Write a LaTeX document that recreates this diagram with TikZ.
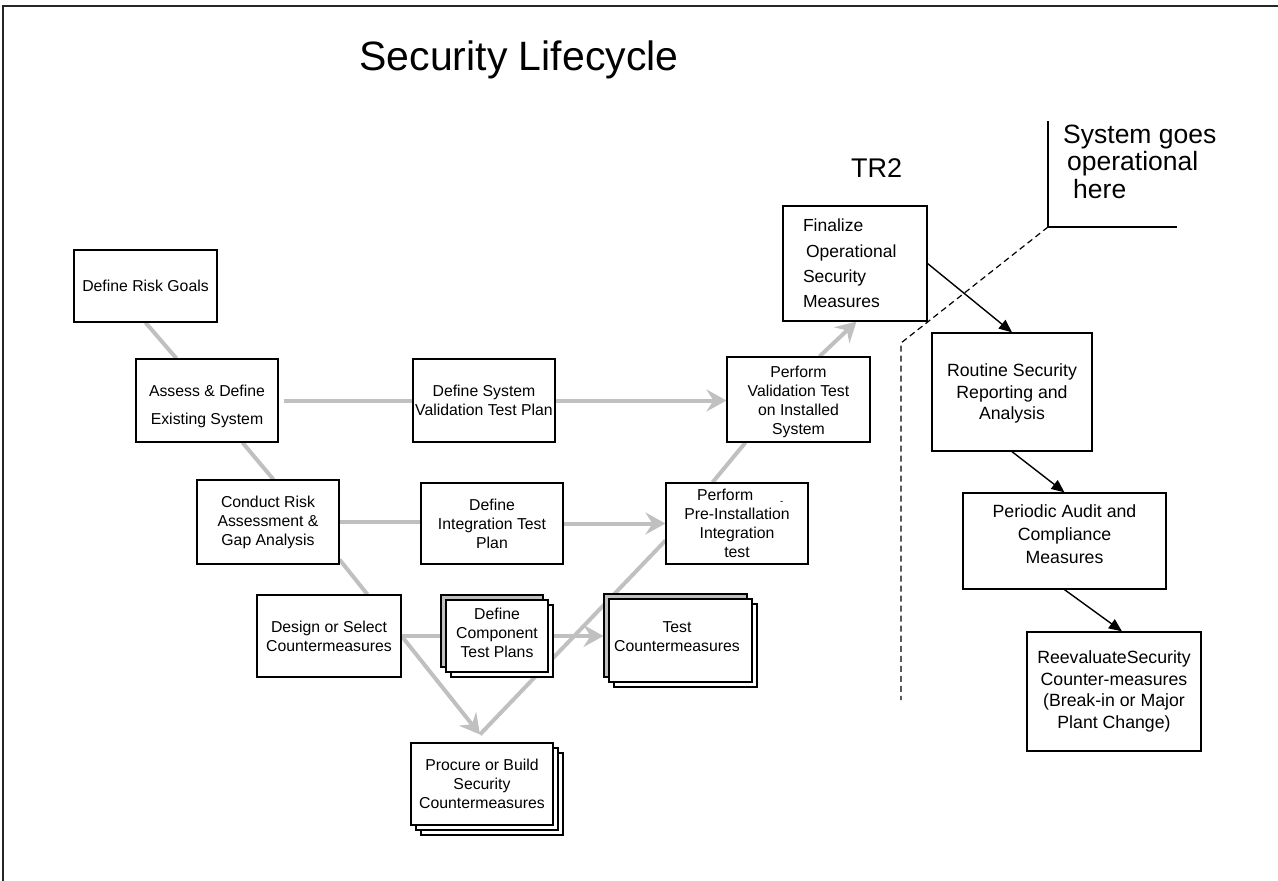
\documentclass[tikz,border=0pt]{standalone}
\usepackage{fontspec}
\setmainfont{Liberation Sans}
\usetikzlibrary{calc,arrows.meta}
\definecolor{lgray}{RGB}{192,192,192}
\pgfdeclarelayer{bg}
\pgfsetlayers{bg,main}
\begin{document}
\begin{tikzpicture}[x=1pt,y=-1pt,
  box/.style={draw=black, line width=1.1pt, fill=white, inner sep=0pt, align=center,
    font=\fontsize{15.8}{19}\selectfont},
  rbox/.style={box, line width=1.3pt, font=\fontsize{17.7}{21.5}\selectfont},
  btext/.style={inner sep=0pt, align=center, font=\fontsize{15.8}{19}\selectfont},
  gline/.style={draw=lgray, line width=4pt},
  garrow/.style={gline, -{Stealth[length=20pt,width=22pt,inset=7pt]}},
  barrow/.style={draw=black, line width=1.4pt, -{Triangle[length=13pt,width=11pt]}},
  stackback/.style={draw=black, line width=1.1pt, fill=white},
  stackgray/.style={draw=black, line width=1.1pt, fill=lgray},
  lbl/.style={inner sep=0pt, anchor=base west},
]
\useasboundingbox (0,0) rectangle (1278,881);
% frame
\draw[line width=2pt, black!85] (3,881) -- (3,6) -- (1278,6);

% title and labels
\node[inner sep=0pt, anchor=base, font=\fontsize{41}{41}\selectfont] (title) at (519,70) {Security Lifecycle};
\node[lbl, font=\fontsize{27}{27}\selectfont] (tr2) at (851,177) {TR2};
\node[lbl, font=\fontsize{26.5}{26.5}\selectfont] (sys1) at (1063,143) {System goes};
\node[lbl, font=\fontsize{26.5}{26.5}\selectfont] (sys2) at (1067,170) {operational};
\node[lbl, font=\fontsize{26.5}{26.5}\selectfont] (sys3) at (1073,198) {here};

% left column boxes
\node[box, minimum width=143pt, minimum height=72pt] (risk) at (145.5,286) {Define Risk Goals};
\node[box, minimum width=142pt, minimum height=83pt] (assess) at (207,400.5) {};
\node[btext] (assessT) at (207,406.5) {Assess \& Define\\[9pt]Existing System};
\node[box, minimum width=142pt, minimum height=84pt] (conduct) at (268,522) {Conduct Risk\\Assessment \&\\Gap Analysis};
\node[box, minimum width=144pt, minimum height=82pt] (design) at (329,636) {Design or Select\\Countermeasures};

% middle boxes
\node[box, minimum width=142pt, minimum height=83pt] (sysval) at (484,400.5) {Define System\\Validation Test Plan};
\node[box, minimum width=142pt, minimum height=81pt] (integ) at (492,523.5) {Define\\Integration Test\\Plan};

\draw[stackback] (451,605) rectangle (553,677);
\draw[stackgray] (441,595) rectangle (543,667);
\node[box, minimum width=102pt, minimum height=72pt] (comp) at (497,636) {};
\node[btext] (compT) at (497,633) {Define\\Component\\Test Plans};

\draw[stackback] (614,604) rectangle (757,687);
\draw[stackgray] (604,594) rectangle (747,677);
\node[box, minimum width=143pt, minimum height=83pt] (test) at (680.5,640.5) {};
\node[btext] (testT) at (677,637) {Test\\Countermeasures};

\draw[stackback] (421,753) rectangle (563,835);
\draw[stackback] (416,748) rectangle (558,830);
\node[box, minimum width=142pt, minimum height=82pt] (procure) at (482,784) {Procure or Build\\Security\\Countermeasures};

% right side of V
\node[box, minimum width=143pt, minimum height=85pt] (perfval) at (798.5,399.5) {};
\node[btext] (perfvalT) at (798.5,402) {Perform\\Validation Test\\on Installed\\System};
\node[box, minimum width=142pt, minimum height=81pt] (preinst) at (737,523.5)
  {\makebox[80pt][l]{Perform\hspace{27pt}\raisebox{-3.5pt}{\fontsize{10}{10}\selectfont -}}\\Pre-Installation\\Integration\\test};
\node[box, font=\fontsize{17.5}{25.3}\selectfont, align=left, text width=104pt, minimum width=144pt, minimum height=115pt] (final) at (855,263.5)
  {Finalize\\\hspace*{3pt}Operational\\Security\\Measures};

% operational boxes
\node[rbox, minimum width=160pt, minimum height=118pt] (routine) at (1012,392) {};
\node[btext, font=\fontsize{17.7}{21.5}\selectfont] (routineT) at (1012,393.5) {Routine Security\\Reporting and\\Analysis};
\node[rbox, minimum width=203pt, minimum height=96pt] (periodic) at (1064.5,541) {};
\node[btext, font=\fontsize{17.7}{23}\selectfont] (periodicT) at (1064.5,534) {Periodic Audit and\\Compliance\\Measures};
\node[rbox, minimum width=174pt, minimum height=119pt] (reeval) at (1114,691.5) {ReevaluateSecurity\\Counter-measures\\(Break-in or Major\\Plant Change)};

% operational boundary
\coordinate (btop) at (1048,121);
\coordinate (bcorner) at (1048,227);
\coordinate (bright) at (1177,227);
\coordinate (dbend) at (901,343);
\coordinate (dend) at (901,700);
\draw[line width=1.4pt] (btop) -- (bcorner) -- (bright);
\draw[line width=1.2pt, dash pattern=on 6pt off 4pt] (bcorner) -- (dbend) -- (dend);

% black arrows
\draw[barrow] (final.east) -- (routine.north);
\draw[barrow] (routine.south) -- (periodic.north);
\draw[barrow] (periodic.south) -- ($(reeval.north)+(8,0)$);

% gray connectors
\begin{pgfonlayer}{bg}
\draw[gline] (risk.south) -- ($(assess.north west)+(41,0)$);
\draw[gline] ($(assess.south west)+(107,0)$) -- ($(conduct.north west)+(77,0)$);
\draw[gline] ($(conduct.south east)+(0,-5)$) -- ($(design.north west)+(111,0)$);
\draw[gline] ($(assess.east)+(5,0)$) -- (sysval.west);
\draw[garrow] (sysval.east) -- (sysval.east -| perfval.west);
\draw[gline] (conduct.east) -- (conduct.east -| integ.west);
\draw[garrow] (integ.east) -- (preinst.west);
\draw[gline] (design.east) -- (design.east -| comp.west);
\draw[garrow] (comp.east) -- ($(comp.east -| test.west)+(-5,0)$);
\coordinate (vtx) at ($(procure.north)+(-2,-8)$);
\draw[garrow] (design.east) -- (vtx);
\draw[gline] (vtx) -- ($(preinst.south west)+(0,-24)$);
\draw[gline] ($(preinst.north west)+(47,0)$) -- ($(perfval.south west)+(19,0)$);
\draw[garrow] ($(perfval.north west)+(93,0)$) -- ($(final.south west)+(74,0)$);
\end{pgfonlayer}
\end{tikzpicture}
\end{document}
